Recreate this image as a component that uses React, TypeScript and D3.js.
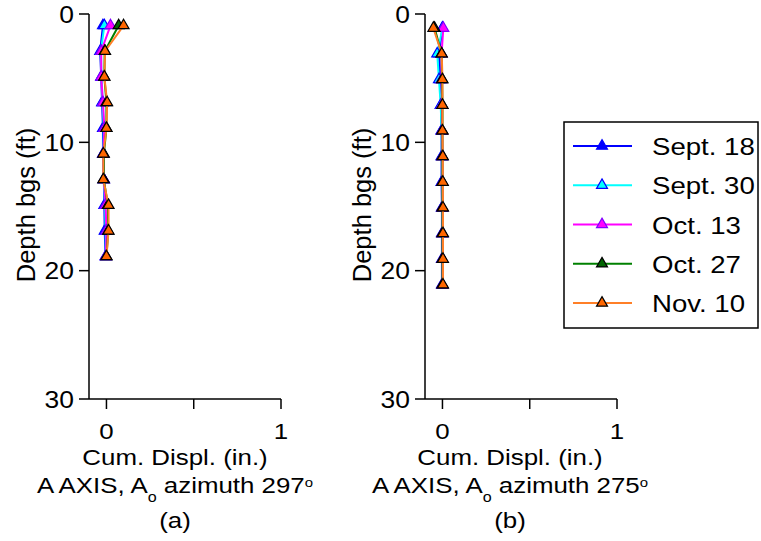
import React from "react";
import * as d3 from "d3";

const seriesNames = ["Sept. 18", "Sept. 30", "Oct. 13", "Oct. 27", "Nov. 10"];
const lineColors = ["#0000ff", "#00ffff", "#ff00ff", "#008000", "#ff7f27"];
const markerFills = ["#0000ff", "#00ffff", "#ff00ff", "#006400", "#ff6600"];
const markerStrokes = ["#0000ff", "#0000ff", "#8000ff", "#000000", "#000000"];

const depthsA = [0.9, 2.9, 4.9, 6.9, 8.9, 10.9, 12.9, 14.9, 16.9, 18.9];
const valuesA = [
  [-0.02, -0.036, -0.03, -0.025, -0.02, -0.02, -0.015, -0.012, -0.01, -0.005],
  [-0.012, -0.032, -0.028, -0.022, -0.015, -0.018, -0.015, -0.008, -0.005, -0.003],
  [0.023, -0.03, -0.03, -0.02, -0.012, -0.018, -0.015, -0.005, 0.0, -0.003],
  [0.07, -0.01, -0.012, 0.0, 0.0, -0.015, -0.015, 0.008, 0.01, 0.0],
  [0.098, -0.008, -0.012, 0.004, 0.0, -0.018, -0.018, 0.012, 0.012, 0.0],
];

const depthsB = [1.1, 3.1, 5.1, 7.1, 9.1, 11.1, 13.1, 15.1, 17.1, 19.1, 21.1];
const valuesB = [
  [0.0, -0.02, -0.012, -0.008, -0.005, -0.005, -0.005, -0.003, -0.003, -0.003, -0.003],
  [0.0, -0.03, -0.02, -0.01, -0.005, -0.003, -0.003, -0.002, 0, 0, 0],
  [0.005, -0.005, -0.005, -0.003, -0.002, 0, 0, 0, 0, 0, 0],
  [-0.045, -0.005, -0.002, 0, 0, 0, 0, 0, 0, 0, 0],
  [-0.052, -0.004, 0.0, 0.0, 0.0, 0.002, 0.002, 0.003, 0.003, 0.003, 0.003],
];

const yTicks = [0, 10, 20, 30];
const xTicks = [0, 0.5, 1];
const xTickLabels = ["0", "", "1"];
const captions = ["(a)", "(b)"];
const azimuths = ["297", "275"];

const FONT = "'Liberation Sans', Arial, Helvetica, sans-serif";
const SX = 1.15;

function HText({ x, y, size, anchor = "start", children }: any) {
  return (
    <text
      transform={`translate(${x},${y}) scale(${SX},1)`}
      fontSize={size}
      textAnchor={anchor}
      fontFamily={FONT}
      fill="#000"
    >
      {children}
    </text>
  );
}

function Panel({ axisX, depths, values, caption, azimuth, labelCenter, ylabelX }: any) {
  const x = d3.scaleLinear().domain([-0.1, 1]).range([axisX, axisX + 192]);
  const y = d3.scaleLinear().domain([0, 30]).range([14, 399]);
  const line = d3
    .line<[number, number]>()
    .x((d) => x(d[0]))
    .y((d) => y(d[1]));
  const tri = d3.symbol(d3.symbolTriangle, 52)() as string;
  const xEnd = x(1);
  return (
    <g>
      <line x1={axisX} x2={axisX} y1={y(0)} y2={y(30)} stroke="#000" strokeWidth={1.5} />
      <line x1={axisX} x2={xEnd} y1={y(30)} y2={y(30)} stroke="#000" strokeWidth={1.5} />
      {yTicks.map((t) => (
        <g key={"y" + t}>
          <line x1={axisX - 10} x2={axisX} y1={y(t)} y2={y(t)} stroke="#000" strokeWidth={1.5} />
          <HText x={axisX - 15} y={y(t) + 8.5} size={23} anchor="end">
            {String(t)}
          </HText>
        </g>
      ))}
      {xTicks.map((t, i) => (
        <g key={"x" + t}>
          <line x1={x(t)} x2={x(t)} y1={y(30)} y2={y(30) + 10} stroke="#000" strokeWidth={1.5} />
          {xTickLabels[i] && (
            <HText x={x(t)} y={439} size={22.5} anchor="middle">
              {xTickLabels[i]}
            </HText>
          )}
        </g>
      ))}
      <text
        transform={`translate(${ylabelX},205) rotate(-90)`}
        fontSize={25.5}
        textAnchor="middle"
        fontFamily={FONT}
      >
        Depth bgs (ft)
      </text>
      <HText x={labelCenter} y={465} size={22.5} anchor="middle">
        Cum. Displ. (in.)
      </HText>
      <HText x={labelCenter} y={493} size={22.5} anchor="middle">
        A AXIS, A
        <tspan fontSize={14} dy={9}>o</tspan>
        <tspan dy={-9}> azimuth {azimuth}</tspan>
        <tspan fontSize={13} dy={-6}>o</tspan>
      </HText>
      <HText x={labelCenter} y={528} size={22.5} anchor="middle">
        {caption}
      </HText>
      {values.map((vals: number[], si: number) => {
        const pts: [number, number][] = vals.map((v, i) => [v, depths[i]]);
        return (
          <g key={"s" + si}>
            <path d={line(pts) as string} fill="none" stroke={lineColors[si]} strokeWidth={2} />
            {pts.map((p, i) => (
              <path
                key={i}
                d={tri}
                transform={`translate(${x(p[0])},${y(p[1])})`}
                fill={markerFills[si]}
                stroke={markerStrokes[si]}
                strokeWidth={1.2}
              />
            ))}
          </g>
        );
      })}
    </g>
  );
}

function Legend() {
  const tri = d3.symbol(d3.symbolTriangle, 52)() as string;
  const rowY = d3.scaleLinear().domain([0, 4]).range([146, 303]);
  return (
    <g>
      <rect x={564} y={122} width={194} height={206} fill="#fff" stroke="#000" strokeWidth={1.5} />
      {seriesNames.map((n, i) => (
        <g key={n}>
          <line x1={573} x2={632} y1={rowY(i)} y2={rowY(i)} stroke={lineColors[i]} strokeWidth={2} />
          <path
            d={tri}
            transform={`translate(602,${rowY(i)})`}
            fill={markerFills[i]}
            stroke={markerStrokes[i]}
            strokeWidth={1.2}
          />
          <HText x={652} y={rowY(i) + 9} size={24}>
            {n}
          </HText>
        </g>
      ))}
    </g>
  );
}

export default function App() {
  return (
    <svg
      width={761}
      height={541}
      style={{ position: "absolute", left: 0, top: 0, background: "#fff" }}
    >
      <rect x={0} y={0} width={761} height={541} fill="#fff" />
      <Panel
        axisX={89}
        depths={depthsA}
        values={valuesA}
        caption={captions[0]}
        azimuth={azimuths[0]}
        labelCenter={175}
        ylabelX={35}
      />
      <Panel
        axisX={425}
        depths={depthsB}
        values={valuesB}
        caption={captions[1]}
        azimuth={azimuths[1]}
        labelCenter={510}
        ylabelX={371}
      />
      <Legend />
    </svg>
  );
}
